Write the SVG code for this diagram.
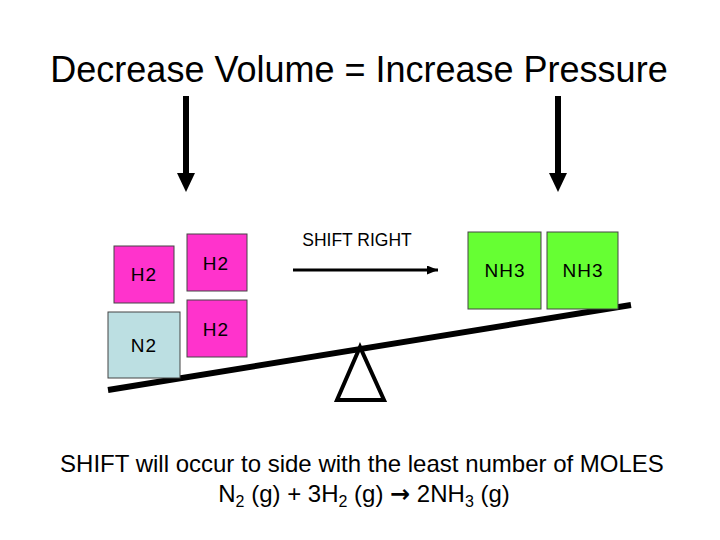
<svg xmlns="http://www.w3.org/2000/svg" width="720" height="540" viewBox="0 0 720 540">
<style>
text{font-family:"Liberation Sans",Arial,sans-serif;fill:#000}
.box{stroke:#444;stroke-width:1}
.h2{fill:#ff33cc}
.nh3{fill:#66ff33}
.n2{fill:#bcdfe2}
.lbl{font-size:19px;text-anchor:middle;letter-spacing:1px}
</style>
<defs>
<marker id="ah" markerWidth="11" markerHeight="9" refX="11" refY="4.5" orient="auto" markerUnits="userSpaceOnUse">
<path d="M0,0 L11,4.5 L0,9 Z" fill="#000"/>
</marker>
</defs>
<rect width="720" height="540" fill="#fff"/>
<text x="359" y="82" font-size="36" text-anchor="middle">Decrease Volume = Increase Pressure</text>
<g id="connectors">
<path d="M186,96 V174" stroke="#000" stroke-width="6"/>
<path d="M177,173 L195,173 L186,192 Z" fill="#000"/>
<path d="M558,96 V174" stroke="#000" stroke-width="6"/>
<path d="M549,173 L567,173 L558,192 Z" fill="#000"/>
<line x1="293" y1="270" x2="438" y2="270" stroke="#000" stroke-width="3" marker-end="url(#ah)"/>
</g>
<g id="shift-label"><text x="357" y="246" font-size="17.5" text-anchor="middle">SHIFT RIGHT</text></g>
<g id="lever">
<line x1="108" y1="390" x2="631" y2="305" stroke="#000" stroke-width="6"/>
<path d="M360,347 L337,400 L384,400 Z" fill="#fff" stroke="#000" stroke-width="4" stroke-linejoin="miter"/>
</g>
<g id="h2-a"><rect class="box h2" x="114" y="246" width="60" height="57"/><text class="lbl" x="144" y="281">H2</text></g>
<g id="n2"><rect class="box n2" x="108" y="312" width="72" height="66"/><text class="lbl" x="144" y="352">N2</text></g>
<g id="h2-b"><rect class="box h2" x="187" y="234" width="60" height="57"/><text class="lbl" x="216" y="270">H2</text></g>
<g id="h2-c"><rect class="box h2" x="187" y="300" width="60" height="57"/><text class="lbl" x="216" y="336">H2</text></g>
<g id="nh3-a"><rect class="box nh3" x="468" y="232" width="73" height="77"/><text class="lbl" x="505" y="277">NH3</text></g>
<g id="nh3-b"><rect class="box nh3" x="547" y="232" width="71" height="77"/><text class="lbl" x="583" y="277">NH3</text></g>
<g id="caption">
<text x="362" y="472" font-size="24" text-anchor="middle">SHIFT will occur to side with the least number of MOLES</text>
<text x="364" y="502" font-size="24" text-anchor="middle">N<tspan font-size="16" dy="5">2</tspan><tspan dy="-5"> (g) + 3H</tspan><tspan font-size="16" dy="5">2</tspan><tspan dy="-5"> (g) </tspan><tspan font-family="'DejaVu Sans',sans-serif" font-weight="bold" font-size="24">→</tspan><tspan> 2NH</tspan><tspan font-size="16" dy="5">3</tspan><tspan dy="-5"> (g)</tspan></text>
</g>
</svg>
